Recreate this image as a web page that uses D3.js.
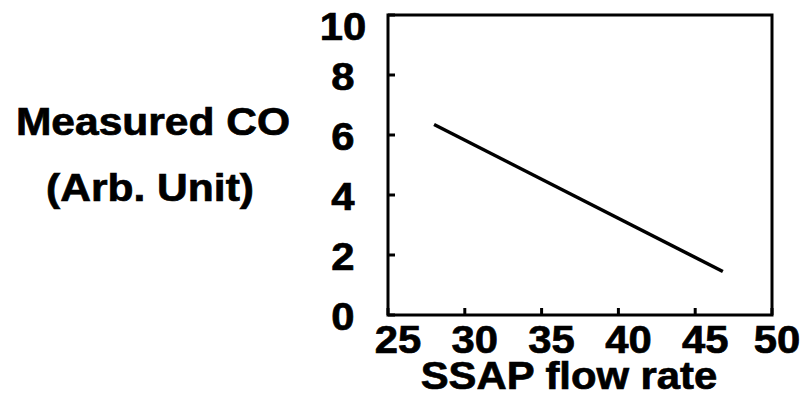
<!DOCTYPE html>
<html><head><meta charset="utf-8">
<script src="https://cdn.jsdelivr.net/npm/d3@7"></script>
<style>body{margin:0;background:#fff}svg{display:block}text{font-family:"Liberation Sans",Arial,sans-serif;font-weight:bold;fill:#000;stroke:#000;stroke-width:0.7px}</style>
</head><body>
<script>
const flowRate = [28, 46.8];
const measuredCO = [6.35, 1.45];
const xTicks = [25, 30, 35, 40, 45, 50];
const yTicks = [0, 2, 4, 6, 8, 10];
const xTitle = "SSAP flow rate";
const yTitle = ["Measured CO", "(Arb. Unit)"];

const W = 809, H = 395;
const m = {left: 388, right: 37, top: 15, bottom: 80};
const svg = d3.select("body").append("svg").attr("width", W).attr("height", H);
const x = d3.scaleLinear().domain([25, 50]).range([m.left, W - m.right]);
const y = d3.scaleLinear().domain([0, 10]).range([H - m.bottom, m.top]);
const SX = 1.1;

// frame
svg.append("rect").attr("x", x(25)).attr("y", y(10)).attr("width", x(50) - x(25)).attr("height", y(0) - y(10))
  .attr("fill", "none").attr("stroke", "#000").attr("stroke-width", 3);

// ticks (inward)
svg.append("g").selectAll("line").data(xTicks).join("line")
  .attr("x1", d => x(d)).attr("x2", d => x(d)).attr("y1", y(0)).attr("y2", y(0) - 7)
  .attr("stroke", "#000").attr("stroke-width", 3);
svg.append("g").selectAll("line").data(yTicks).join("line")
  .attr("x1", x(25)).attr("x2", x(25) + 7).attr("y1", d => y(d)).attr("y2", d => y(d))
  .attr("stroke", "#000").attr("stroke-width", 3);

// tick labels
svg.append("g").selectAll("text").data(xTicks).join("text")
  .attr("transform", d => `translate(${Math.min(x(d) + 10, W - 32)},${y(0) + 38}) scale(${SX},1)`)
  .attr("text-anchor", "middle").attr("font-size", 38).text(d => d);
svg.append("g").selectAll("text").data(yTicks).join("text")
  .attr("transform", d => `translate(${x(25) - 45},${Math.max(y(d) + 15, m.top + 25)}) scale(${SX},1)`)
  .attr("text-anchor", "middle").attr("font-size", 38).text(d => d);

// axis titles
svg.append("text").attr("transform", `translate(${(x(25) + x(50)) / 2 - 11},389) scale(${SX},1)`)
  .attr("text-anchor", "middle").attr("font-size", 38).text(xTitle);
svg.append("g").selectAll("text").data(yTitle).join("text")
  .attr("transform", (d, i) => `translate(${153 - i * 3},${135 + i * 66}) scale(1.12,1)`)
  .attr("text-anchor", "middle").attr("font-size", 38).text(d => d);

// data line
const pts = flowRate.map((v, i) => [v, measuredCO[i]]);
svg.append("path").datum(pts)
  .attr("d", d3.line().x(d => x(d[0])).y(d => y(d[1])))
  .attr("fill", "none").attr("stroke", "#000").attr("stroke-width", 3.5);
</script>
</body></html>
